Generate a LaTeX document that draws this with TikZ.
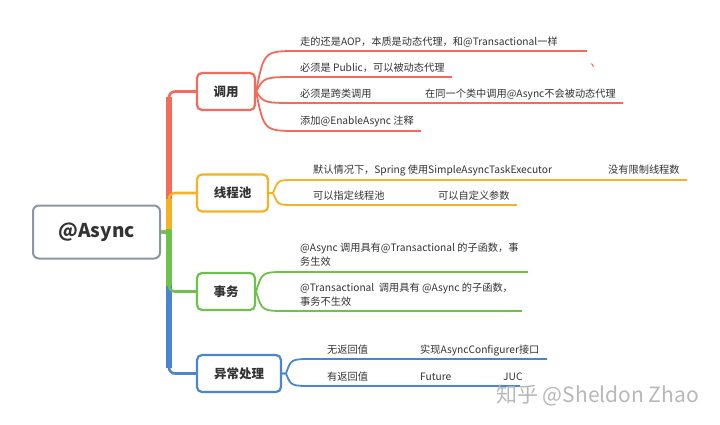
\documentclass[tikz,border=0pt]{standalone}
\usepackage{fontspec}
\setmainfont{Noto Sans CJK SC}
\definecolor{cred}{HTML}{F26B5B}
\definecolor{cora}{HTML}{F5B324}
\definecolor{cgrn}{HTML}{6CC24A}
\definecolor{cblu}{HTML}{4A86D0}
\definecolor{cgry}{HTML}{8C96A3}
\definecolor{txt}{HTML}{333333}
\begin{document}
\begin{tikzpicture}[x=1pt,y=-1pt,
  rootbox/.style={draw=cgry, line width=2pt, rounded corners=6pt, fill=white,
    minimum width=127pt, minimum height=53pt, inner sep=0pt, text=txt,
    font=\fontsize{19}{22}\selectfont\bfseries},
  topic/.style={draw=#1, line width=2.2pt, rounded corners=5pt, fill=white,
    minimum height=37pt, inner sep=0pt, text=txt,
    font=\fontsize{12.5}{14}\selectfont\bfseries},
  branch/.style={draw=#1, line width=2.6pt, rounded corners=6pt},
  trunk/.style={draw=#1, line width=5.5pt},
  cl/.style={draw=#1, line width=1.8pt},
  lbl/.style={anchor=base west, inner sep=0pt, text=txt,
    font=\fontsize{10.2}{14}\selectfont, align=left},
]
\useasboundingbox (0,0) rectangle (720,424);
\fill[white] (0,0) rectangle (720,424);

% root and topics
\node[rootbox] (root) at (96.5,232) {@Async};
\node[topic=cred, minimum width=58pt] (t1) at (226,91.5) {调用};
\node[topic=cora, minimum width=71pt] (t2) at (232.5,193) {线程池};
\node[topic=cgrn, minimum width=58pt] (t3) at (226,291.5) {事务};
\node[topic=cblu, minimum width=84pt] (t4) at (239,373.5) {异常处理};

% trunk branches
\coordinate (j) at (169,232);
\draw[branch=cred] (root.east) -- (j) -- (169,91.5) -- (t1.west);
\draw[trunk=cred] (j) -- (169,97);
\draw[branch=cora] (root.east) -- (j) -- (169,193) -- (t2.west);
\draw[trunk=cora] (j) -- (169,198.5);
\draw[branch=cblu] (root.east) -- (j) -- (169,373.5) -- (t4.west);
\draw[trunk=cblu] (j) -- (169,368);
\draw[branch=cgrn] (root.east) -- (j) -- (169,291.5) -- (t3.west);
\draw[trunk=cgrn] (169,229) -- (169,286);
\draw[line width=2.6pt, cgrn] (root.east) -- (j);

% --- 调用 children
\coordinate (e11) at (587,51);
\coordinate (e12) at (452,77);
\coordinate (e13) at (623,103);
\coordinate (e14) at (421,131);
\draw[cl=cred] (t1.east) .. controls (264,51) .. (298,51) -- (e11);
\draw[cl=cred] (t1.east) .. controls (264,77) .. (298,77) -- (e12);
\draw[cl=cred] (t1.east) .. controls (264,103) .. (298,103) -- (e13);
\draw[cl=cred] (t1.east) .. controls (264,131) .. (298,131) -- (e14);
\node[lbl] (a1) at (300,45) {走的还是AOP，本质是动态代理，和@Transactional一样};
\node[lbl] (a2) at (300,71) {必须是 Public，可以被动态代理};
\node[lbl] (a3) at (300,97) {必须是跨类调用};
\node[lbl] (a3b) at (425,97) {在同一个类中调用@Async不会被动态代理};
\node[lbl] (a4) at (300,124.5) {添加@EnableAsync 注释};
\draw[cred, line width=1pt] (591.5,63.5) -- (593.5,66.5);

% --- 线程池 children
\coordinate (e21) at (687,180);
\coordinate (e22) at (517,205);
\draw[cl=cora] (t2.east) -- (273,193) .. controls (278,180) .. (293,180) -- (e21);
\draw[cl=cora] (t2.east) -- (273,193) .. controls (278,205) .. (293,205) -- (e22);
\node[lbl] (b1) at (313,173.5) {默认情况下，Spring 使用SimpleAsyncTaskExecutor};
\node[lbl] (b1b) at (608,173.5) {没有限制线程数};
\node[lbl] (b2) at (313,199) {可以指定线程池};
\node[lbl] (b2b) at (438,199) {可以自定义参数};

% --- 事务 children
\coordinate (e31) at (528,272);
\coordinate (e32) at (522,311);
\draw[cl=cgrn] (t3.east) .. controls (262,272) .. (287,272) -- (e31);
\draw[cl=cgrn] (t3.east) .. controls (262,311) .. (287,311) -- (e32);
\node[lbl] (c1) at (300,265.5) {@Async 调用具有@Transactional 的子函数，事\\务生效};
\node[lbl] (c2) at (300,305) {@Transactional\ \ 调用具有 @Async 的子函数，\\事务不生效};

% --- 异常处理 children
\coordinate (e41) at (547,359);
\coordinate (e42) at (520,386);
\draw[cl=cblu] (t4.east) -- (286,373.5) .. controls (291,359) .. (313,359) -- (e41);
\draw[cl=cblu] (t4.east) -- (286,373.5) .. controls (291,386) .. (313,386) -- (e42);
\node[lbl] (d1) at (327,353) {无返回值};
\node[lbl] (d1b) at (420,353) {实现AsyncConfigurer接口};
\node[lbl] (d2) at (327,380) {有返回值};
\node[lbl] (d2b) at (420,380) {Future};
\node[lbl] (d2c) at (503,380) {JUC};

% watermark
\node[anchor=west, inner sep=0pt, text=black!28, font=\fontsize{21}{24}\selectfont] (wm) at (496,395) {知乎 @Sheldon Zhao};
\end{tikzpicture}
\end{document}
